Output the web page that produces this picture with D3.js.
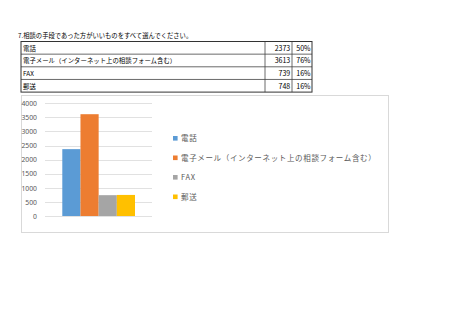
<!DOCTYPE html>
<html lang="ja">
<head>
<meta charset="UTF-8">
<title>相談の手段</title>
<script src="https://cdn.jsdelivr.net/npm/d3@7"></script>
<style>
    html, body { margin: 0; padding: 0; background: #fff; }
    svg { display: block; font-family: "Noto Sans CJK JP", "Noto Sans", sans-serif; }
</style>
</head>
<body>
<div id="chart"></div>
<script>
    // data
    const title = '7.相談の手段であった方がいいものをすべて選んでください。';
    const categories = ['電話', '電子メール（インターネット上の相談フォーム含む）', 'FAX', '郵送'];
    const counts = [2373, 3613, 739, 748];
    const percents = ['50%', '76%', '16%', '16%'];
    const yTicks = [0, 500, 1000, 1500, 2000, 2500, 3000, 3500, 4000];
    const colors = ['#5B9BD5', '#ED7D31', '#A5A5A5', '#FFC000'];

    const width = 453, height = 320;
    const svg = d3.select('#chart').append('svg')
        .attr('width', width)
        .attr('height', height);

    // title
    svg.append('text')
        .attr('x', 18)
        .attr('y', 37.5)
        .attr('font-size', 6.3)
        .attr('fill', '#000')
        .text(title);

    // table
    const tbl = { left: 21, top: 41.5, rowH: 12.65, col1: 265, col2: 292, right: 312 };
    const table = svg.append('g');
    categories.forEach((c, i) => {
        const y = tbl.top + i * tbl.rowH;
        table.append('text')
            .attr('x', tbl.left + 2)
            .attr('y', y + tbl.rowH - 3.5)
            .attr('font-size', 6.4)
            .text(c);
        table.append('text')
            .attr('x', tbl.col2 - 1.8)
            .attr('y', y + tbl.rowH - 3.5)
            .attr('font-size', 7)
            .attr('text-anchor', 'end')
            .text(counts[i]);
        table.append('text')
            .attr('x', tbl.right - 1.5)
            .attr('y', y + tbl.rowH - 3.5)
            .attr('font-size', 7)
            .attr('text-anchor', 'end')
            .text(percents[i]);
        if (i > 0) {
            table.append('line')
                .attr('x1', tbl.left).attr('x2', tbl.right)
                .attr('y1', y).attr('y2', y)
                .attr('stroke', '#444').attr('stroke-width', 0.8);
        }
    });
    const tblBottom = tbl.top + categories.length * tbl.rowH;
    [tbl.col1, tbl.col2].forEach(x => {
        table.append('line')
            .attr('x1', x).attr('x2', x)
            .attr('y1', tbl.top).attr('y2', tblBottom)
            .attr('stroke', '#444').attr('stroke-width', 0.8);
    });
    table.append('rect')
        .attr('x', tbl.left).attr('y', tbl.top)
        .attr('width', tbl.right - tbl.left)
        .attr('height', tblBottom - tbl.top)
        .attr('fill', 'none')
        .attr('stroke', '#333').attr('stroke-width', 1);

    // chart frame
    svg.append('rect')
        .attr('x', 21.5).attr('y', 95.5)
        .attr('width', 367).attr('height', 137)
        .attr('fill', '#fff')
        .attr('stroke', '#d9d9d9').attr('stroke-width', 1);

    const y = d3.scaleLinear().domain([0, 4000]).range([216, 103.3]);
    const x = d3.scaleBand().domain(categories).range([62.3, 135]).padding(0);
    const plotLeft = 45, plotRight = 152;

    // gridlines
    svg.append('g')
        .selectAll('line')
        .data(yTicks)
        .join('line')
        .attr('x1', plotLeft).attr('x2', plotRight)
        .attr('y1', d => Math.round(y(d)) + 0.5)
        .attr('y2', d => Math.round(y(d)) + 0.5)
        .attr('stroke', '#d9d9d9').attr('stroke-width', 0.8);

    // y axis labels
    const yAxis = svg.append('g')
        .attr('transform', 'translate(40.5,0)')
        .call(d3.axisLeft(y).tickValues(yTicks).tickFormat(d3.format('d')).tickSize(0).tickPadding(3.5));
    yAxis.select('.domain').remove();
    yAxis.selectAll('text')
        .attr('font-size', 6.8)
        .attr('font-family', '"Noto Sans", sans-serif')
        .attr('fill', '#595959');

    // bars
    svg.append('g')
        .selectAll('rect')
        .data(categories)
        .join('rect')
        .attr('x', d => x(d))
        .attr('y', (d, i) => y(counts[i]))
        .attr('width', x.bandwidth())
        .attr('height', (d, i) => y(0) - y(counts[i]))
        .attr('fill', (d, i) => colors[i]);

    // legend
    const legend = svg.append('g')
        .selectAll('g')
        .data(categories)
        .join('g')
        .attr('transform', (d, i) => `translate(173,${138.3 + i * 19.5})`);
    legend.append('rect')
        .attr('x', 0).attr('y', -2.3)
        .attr('width', 4.6).attr('height', 4.6)
        .attr('fill', (d, i) => colors[i]);
    legend.append('text')
        .attr('x', 8)
        .attr('y', 2.7)
        .attr('font-size', 7.5)
        .attr('letter-spacing', 0.65)
        .attr('fill', '#595959')
        .text(d => d);
</script>
</body>
</html>
